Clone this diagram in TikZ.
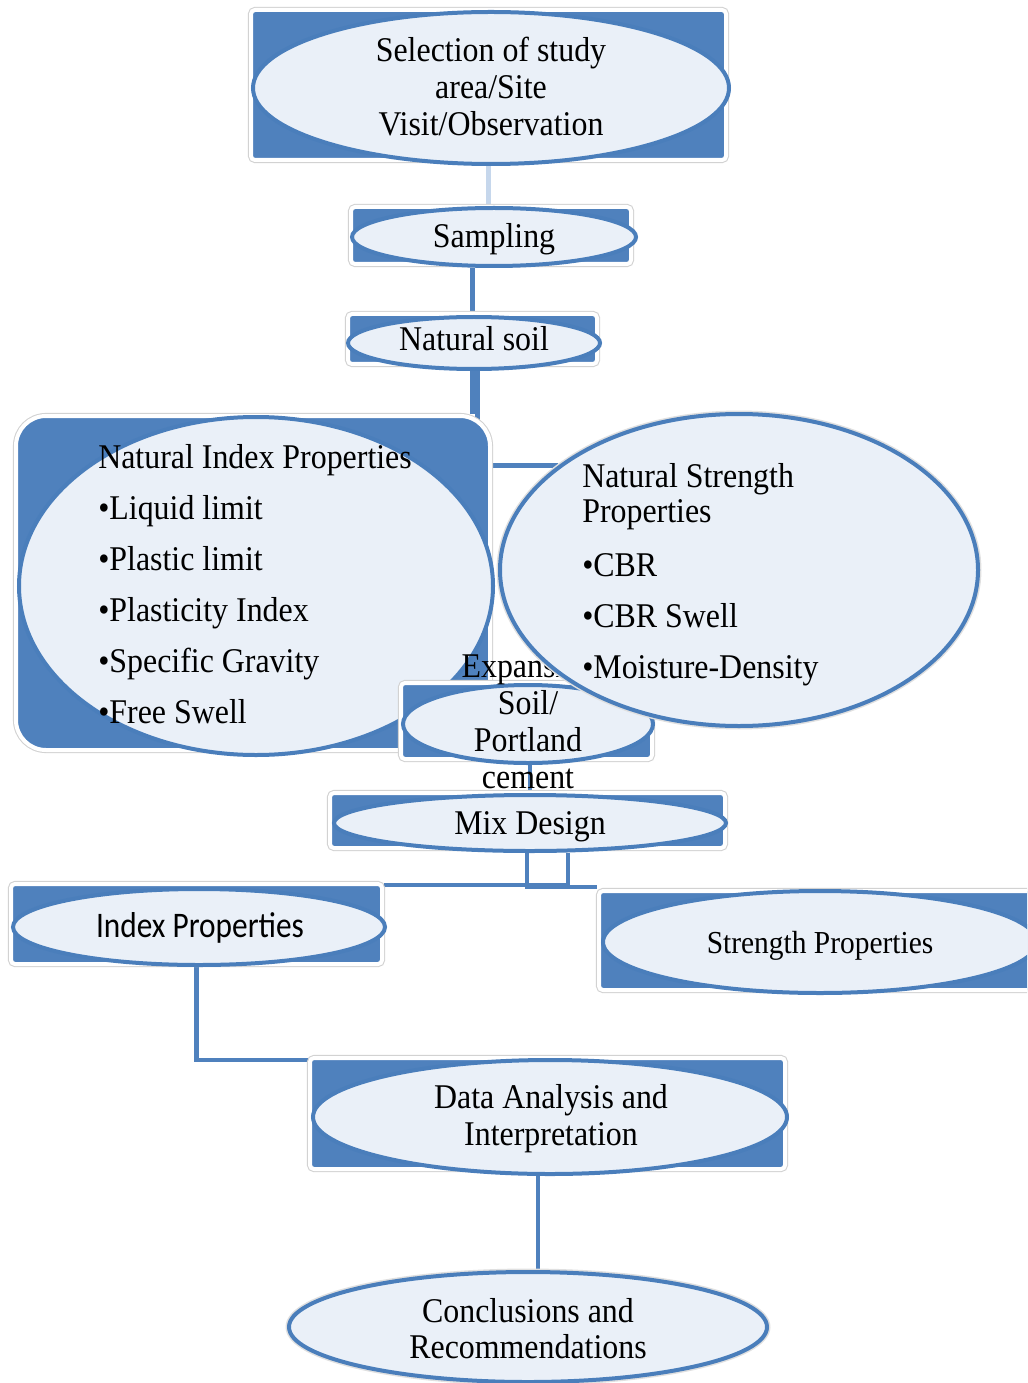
\documentclass[tikz,border=0pt]{standalone}
\usepackage{fontspec}
\setmainfont{Liberation Serif}[FakeStretch=0.92]
\newfontfamily\calibfont{Carlito}[FakeStretch=0.87]
\usetikzlibrary{shapes.geometric,calc}
\definecolor{boxblue}{HTML}{4F81BD}
\definecolor{ellfill}{HTML}{EAF0F8}
\definecolor{elline}{HTML}{4A7EBB}
\definecolor{framegray}{HTML}{D2D2D2}
\definecolor{paleline}{HTML}{C6D7EC}
\pgfdeclarelayer{bg}
\pgfsetlayers{bg,main}
\newcommand\fsmain{\fontsize{26}{27.75}\selectfont}
\newcommand\fsnip{\fontsize{26}{38.25}\selectfont}
\newcommand\fsnsp{\fontsize{26}{26.25}\selectfont}
\newcommand\fsconc{\fontsize{26}{27}\selectfont}
\begin{document}
\begin{tikzpicture}[x=0.75pt,y=-0.75pt,
  bluebox/.style 2 args={rectangle, inner sep=0, fill=boxblue, draw=white, line width=3pt,
    minimum width=#1*0.75pt, minimum height=#2*0.75pt, rounded corners=3pt,
    preaction={draw=framegray, line width=4.6pt}},
  oval/.style 2 args={ellipse, inner sep=0, fill=ellfill, draw=elline, line width=3pt,
    minimum width=#1*0.75pt, minimum height=#2*0.75pt},
  halo/.style={preaction={draw=black!12, line width=5.2pt}},
  txt/.style={inner sep=0, text=black},
  conn/.style={draw=boxblue, line width=3.2pt},
  paleconn/.style={draw=paleline, line width=4.2pt}]
\useasboundingbox (0,0) rectangle (1027,1383);
\clip (0,0) rectangle (1027,1383);

% top
\node[bluebox={475}{150}] (topbox) at (488.5,85) {};
\node[oval={476}{152}] (top) at (491,88) {};
\node[txt, anchor=base, font=\fsmain] (ttop) at (491,62)
  {\begin{tabular}[t]{@{}c@{}}Selection of study\\area/Site\\Visit/Observation\end{tabular}};

% sampling
\node[bluebox={280}{57}] (sampbox) at (491,235.5) {};
\node[oval={284}{58}] (samp) at (494,237) {};
\node[txt, anchor=base, font=\fsmain] (tsamp) at (494,248) {Sampling};

% natural soil
\node[bluebox={249}{50}] (soilbox) at (472.5,339) {};
\node[oval={252}{52}] (soil) at (474,343) {};
\node[txt, anchor=base, font=\fsmain] (tsoil) at (474,351) {Natural soil};

% natural index properties
\node[bluebox={474}{334}, rounded corners=22.5pt] (nipbox) at (253,583) {};
\node[oval={474}{338}] (nip) at (256,586) {};
\node[txt, anchor=base west, font=\fsnip] (tnip) at (98,468)
  {\begin{tabular}[t]{@{}l@{}}Natural Index Properties\\•Liquid limit\\•Plastic limit\\•Plasticity Index\\•Specific Gravity\\•Free Swell\end{tabular}};

% expansive soil / portland cement
\node[bluebox={251}{76}] (expbox) at (526.5,721) {};
\node[oval={250}{78}] (exp) at (528,724) {};
\node[txt, anchor=base, font=\fsmain] (texp) at (528,677)
  {\begin{tabular}[t]{@{}c@{}}Expansive\\Soil/\\Portland\\cement\end{tabular}};

% natural strength properties
\node[oval={478}{312}, halo] (nsp) at (739,570) {};
\node[txt, anchor=base west, font=\fsnsp] (tnsp) at (582,487)
  {\begin{tabular}[t]{@{}l@{}}Natural Strength\\Properties\\[14.25pt]•CBR\\[12pt]•CBR Swell\\[12pt]•Moisture-Density\end{tabular}};

% mix design
\node[bluebox={395}{55}] (mixbox) at (527.5,820.5) {};
\node[oval={392}{56}] (mix) at (530,823) {};
\node[txt, anchor=base, font=\fsmain] (tmix) at (530,834) {Mix Design};

% index properties
\node[bluebox={371}{80}] (ipbox) at (196.5,924) {};
\node[oval={372}{76}] (ip) at (199,927) {};
\node[txt, anchor=base, font={\calibfont\fontsize{27}{30}\selectfont}] (tip) at (200,937) {Index Properties};

% strength properties
\node[bluebox={438}{99}] (spbox) at (818,940.5) {};
\node[oval={434}{102}] (sp) at (820,942) {};
\node[txt, anchor=base, font={\fontsize{24}{28}\selectfont}] (tsp) at (820,953) {Strength Properties};

% data analysis
\node[bluebox={475}{111}] (databox) at (547.5,1113.5) {};
\node[oval={474}{114}] (data) at (550,1117) {};
\node[txt, anchor=base, font=\fsmain] (tdata) at (551,1108)
  {\begin{tabular}[t]{@{}c@{}}Data Analysis and\\Interpretation\end{tabular}};

% conclusions
\node[oval={478}{110}, halo] (conc) at (528,1327) {};
\node[txt, anchor=base, font=\fsconc] (tconc) at (528,1322)
  {\begin{tabular}[t]{@{}c@{}}Conclusions and\\Recommendations\end{tabular}};

\begin{pgfonlayer}{bg}
  \fill[white] (0,0) rectangle (1027,1383);
  \draw[paleconn] (topbox.south) -- (topbox.south |- sampbox.north);
  \draw[conn] (soilbox.north |- samp.south) -- (soilbox.north);
  \draw[conn] (soilbox.south) -- (soilbox.south |- nipbox.north);
  \draw[conn] ([xshift=3.75pt]soilbox.south) |- (nsp.150);
  \draw[conn] (mix.north |- expbox.south) -- (mix.north);
  \draw[conn] ([xshift=28.5pt]mix.south) |- ([yshift=-2.25pt]ipbox.north east);
  \draw[conn] ([xshift=-2.25pt]mix.south) |- ([yshift=1.5pt]spbox.north west);
  \draw[conn] (ipbox.south) |- ([yshift=-3pt]databox.north west);
  \draw[conn] ([xshift=-9pt]data.south) -- ([xshift=-9pt]data.south |- conc.north);
\end{pgfonlayer}
\end{tikzpicture}
\end{document}
